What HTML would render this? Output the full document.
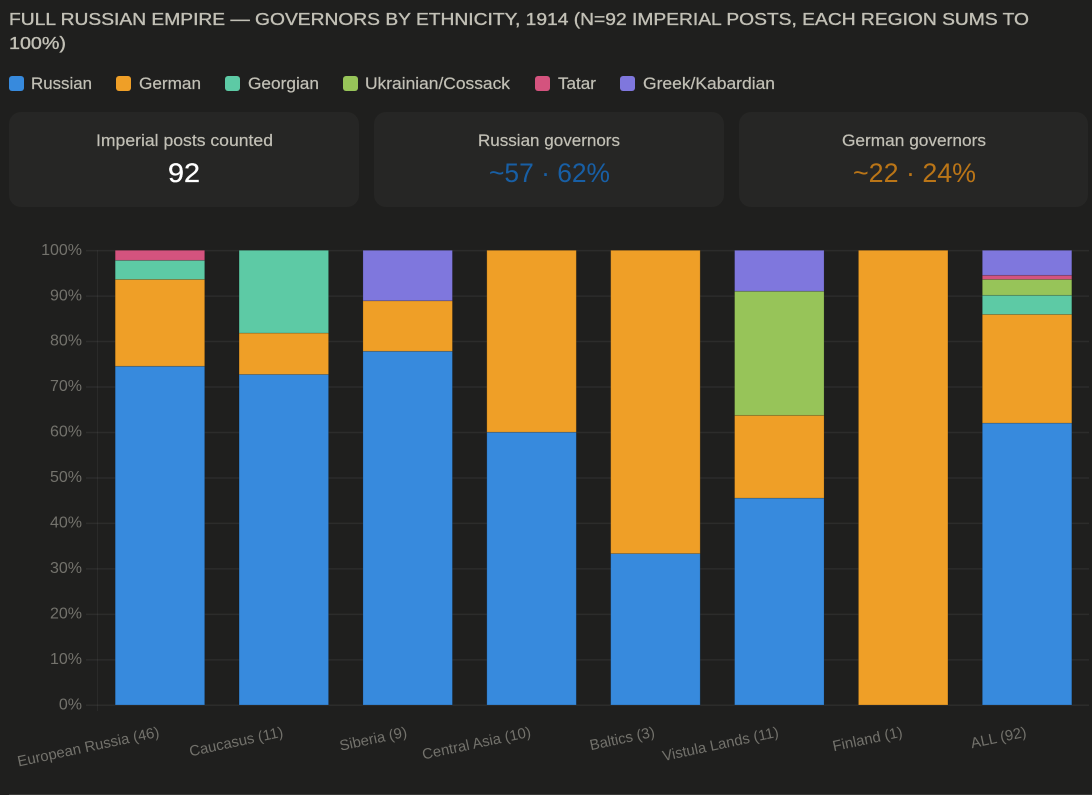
<!DOCTYPE html>
<html>
<head>
<meta charset="utf-8">
<title>Russian Empire governors by ethnicity</title>
<style>
html,body{margin:0;padding:0;background:#1f1f1e;width:1092px;height:795px;overflow:hidden}
svg{display:block;font-family:"Liberation Sans",sans-serif}
.hd{fill:#c2c0b6;font-size:17.5px;stroke:#c2c0b6;stroke-width:.35px}
.lg{fill:#c2c0b6;font-size:16.5px;stroke:#c2c0b6;stroke-width:.2px}
.cl{fill:#c2c0b6;font-size:16.5px;stroke:#c2c0b6;stroke-width:.2px}
.cv{font-size:27px}
.tk{fill:#73726c;font-size:16px}
.xl{fill:#73726c;font-size:14.85px}
</style>
</head>
<body>
<svg id="page" width="1092" height="795" viewBox="0 0 1092 795">
  <text class="hd" x="9" y="25" textLength="1020" lengthAdjust="spacingAndGlyphs">FULL RUSSIAN EMPIRE — GOVERNORS BY ETHNICITY, 1914 (N=92 IMPERIAL POSTS, EACH REGION SUMS TO</text>
  <text class="hd" x="9" y="49" textLength="57" lengthAdjust="spacingAndGlyphs">100%)</text>

  <g>
    <rect x="9" y="76" width="15" height="15" rx="3" fill="#378ADD"/>
    <text class="lg" x="31" y="89" textLength="61" lengthAdjust="spacingAndGlyphs">Russian</text>
    <rect x="116" y="76" width="15" height="15" rx="3" fill="#EF9F27"/>
    <text class="lg" x="139" y="89" textLength="62" lengthAdjust="spacingAndGlyphs">German</text>
    <rect x="225" y="76" width="15" height="15" rx="3" fill="#5DCAA5"/>
    <text class="lg" x="248" y="89" textLength="71" lengthAdjust="spacingAndGlyphs">Georgian</text>
    <rect x="343" y="76" width="15" height="15" rx="3" fill="#97C459"/>
    <text class="lg" x="365" y="89" textLength="145" lengthAdjust="spacingAndGlyphs">Ukrainian/Cossack</text>
    <rect x="535" y="76" width="15" height="15" rx="3" fill="#D4537E"/>
    <text class="lg" x="558" y="89" textLength="38" lengthAdjust="spacingAndGlyphs">Tatar</text>
    <rect x="620" y="76" width="15" height="15" rx="3" fill="#7F77DD"/>
    <text class="lg" x="643" y="89" textLength="132" lengthAdjust="spacingAndGlyphs">Greek/Kabardian</text>
  </g>

  <g>
    <rect x="9" y="112" width="350" height="95" rx="12" fill="#262625"/>
    <text class="cl" x="96" y="146" textLength="177" lengthAdjust="spacingAndGlyphs">Imperial posts counted</text>
    <text class="cv" x="168" y="182" textLength="32" lengthAdjust="spacingAndGlyphs" fill="#ffffff" stroke="#ffffff" stroke-width=".3">92</text>
  </g>
  <g>
    <rect x="374" y="112" width="350" height="95" rx="12" fill="#262625"/>
    <text class="cl" x="478" y="146" textLength="142" lengthAdjust="spacingAndGlyphs">Russian governors</text>
    <text class="cv" x="489" y="182" textLength="121" lengthAdjust="spacingAndGlyphs" fill="#185FA5">~57 · 62%</text>
  </g>
  <g>
    <rect x="739" y="112" width="349" height="95" rx="12" fill="#262625"/>
    <text class="cl" x="842" y="146" textLength="144" lengthAdjust="spacingAndGlyphs">German governors</text>
    <text class="cv" x="853" y="182" textLength="123" lengthAdjust="spacingAndGlyphs" fill="#BA7517">~22 · 24%</text>
  </g>

  <g id="chart"></g>
  <rect x="9" y="794" width="1083" height="1" fill="#3a3a38"/>
</svg>
<script>
const categories = ['European Russia (46)', 'Caucasus (11)', 'Siberia (9)', 'Central Asia (10)', 'Baltics (3)', 'Vistula Lands (11)', 'Finland (1)', 'ALL (92)'];
const russian = [74.5, 72.7, 77.8, 60, 33.3, 45.5, 0, 62];
const german = [19.1, 9.1, 11.1, 40, 66.7, 18.2, 100, 23.9];
const georgian = [4.2, 18.2, 0, 0, 0, 0, 0, 4.2];
const ukrainianCossack = [0, 0, 0, 0, 0, 27.3, 0, 3.5];
const tatar = [2.2, 0, 0, 0, 0, 0, 0, 0.9];
const greekKabardian = [0, 0, 11.1, 0, 0, 9, 0, 5.5];
const yTicks = [0, 10, 20, 30, 40, 50, 60, 70, 80, 90, 100];

const NS = 'http://www.w3.org/2000/svg';
const chart = document.getElementById('chart');
const series = [
  { key: 'russian', values: russian, color: '#378ADD' },
  { key: 'german', values: german, color: '#EF9F27' },
  { key: 'georgian', values: georgian, color: '#5DCAA5' },
  { key: 'ukrainian-cossack', values: ukrainianCossack, color: '#97C459' },
  { key: 'tatar', values: tatar, color: '#D4537E' },
  { key: 'greek-kabardian', values: greekKabardian, color: '#7F77DD' }
];
const plot = { left: 98, right: 1089, top: 250.3, bottom: 705 };
const band = (plot.right - plot.left) / categories.length;
const barWidth = 89.5;
const yScale = v => plot.bottom - (v / 100) * (plot.bottom - plot.top);
const xCenter = i => plot.left + band * (i + 0.5);

function make(tag, attrs) {
  const el = document.createElementNS(NS, tag);
  for (const k in attrs) el.setAttribute(k, attrs[k]);
  chart.appendChild(el);
  return el;
}

const vAxis = make('line', { x1: plot.left - 0.5, x2: plot.left - 0.5, y1: plot.top, y2: plot.bottom + 6, stroke: 'rgba(255,255,255,0.05)' });



yTicks.forEach(t => {
  const y = yScale(t) + 0.3;
  const grid = make('line', { x1: 86, x2: 1089, y1: y, y2: y, stroke: 'rgba(255,255,255,0.06)', 'stroke-width': 1.5 });
  
  
  const label = make('text', { class: 'tk', x: 82, y: yScale(t) + 4.5, 'text-anchor': 'end' });
  label.textContent = t + '%';
  
  
});

categories.forEach((name, i) => {
  let cumulative = 0;
  const cx = xCenter(i);
  series.forEach(s => {
    const v = s.values[i];
    if (v > 0) {
      const y1 = yScale(cumulative + v);
      const y0 = yScale(cumulative);
      const bar = make('rect', { x: cx - barWidth / 2, y: y1, width: barWidth, height: y0 - y1, fill: s.color, stroke: 'rgba(0,0,0,0.2)', 'stroke-width': 0.8 });
      
      
    }
    cumulative += v;
  });
  const ay = 736.5;
  const label = make('text', { class: 'xl', x: cx, y: ay, 'text-anchor': 'end', transform: 'rotate(-12 ' + cx + ' ' + ay + ')' });
  label.textContent = name;
  
  
});
</script>
</body>
</html>
